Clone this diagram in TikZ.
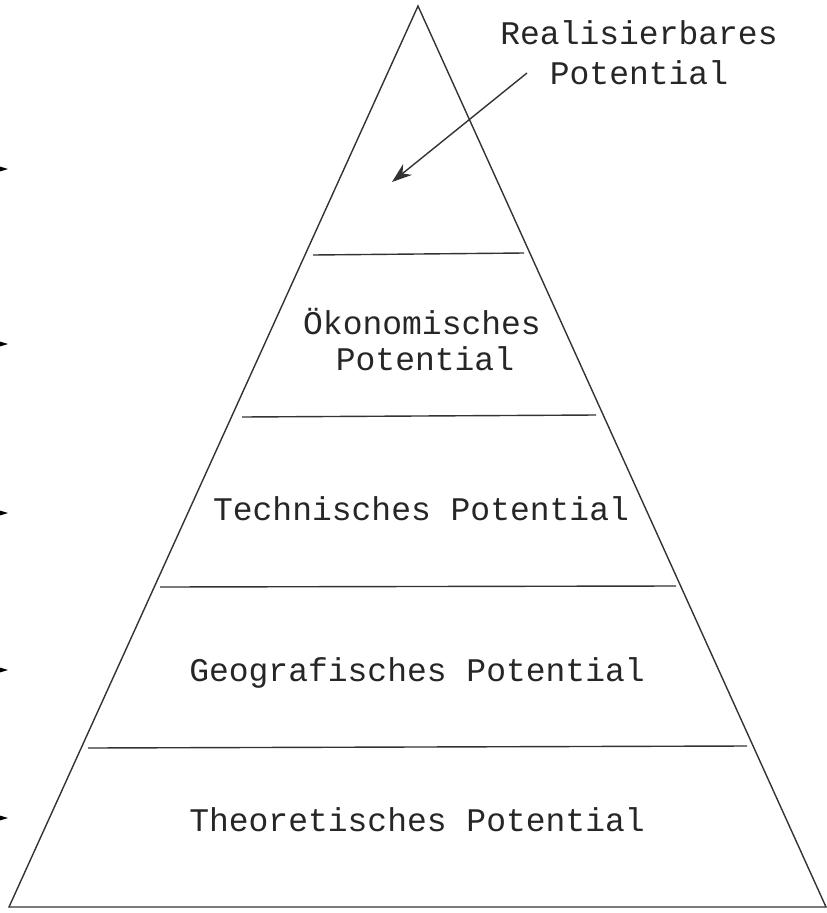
\documentclass[tikz,border=0pt]{standalone}
\usepackage{fontspec}
\setmonofont{Liberation Mono}
\usetikzlibrary{arrows.meta}
\begin{document}
\begin{tikzpicture}[x=1pt,y=-1pt,
  edge/.style={line width=1.4pt, draw=black!80},
  layer/.style={line width=1.4pt, draw=black!80},
  lbl/.style={font=\fontsize{33}{40}\selectfont\ttfamily, anchor=base, inner sep=0pt, text=black!85},
  pointer/.style={line width=1.4pt, draw=black!80, -{Stealth[length=20pt,width=14pt]}},
  sidearrow/.style={line width=1.4pt, -{Stealth[length=20pt,width=12pt]}}]
\path[use as bounding box] (0,0) rectangle (827,913);
\clip (0,0) rectangle (827,913);
% triangle
\coordinate (apex) at (418,6);
\coordinate (bl) at (9,907);
\coordinate (br) at (826,907);
\draw[edge] (bl) -- (apex) -- (br) -- cycle;
% layer lines
\coordinate (l1a) at (313,255); \coordinate (l1b) at (524,253);
\coordinate (l2a) at (242,417); \coordinate (l2b) at (596,415);
\coordinate (l3a) at (160,587); \coordinate (l3b) at (676,586);
\coordinate (l4a) at (88,748);  \coordinate (l4b) at (747,746);
\draw[layer] (l1a) -- (l1b);
\draw[layer] (l2a) -- (l2b);
\draw[layer] (l3a) -- (l3b);
\draw[layer] (l4a) -- (l4b);
% labels
\node[lbl] (real1) at (639,44) {Realisierbares};
\node[lbl] (real2) at (639,84) {Potential};
\node[lbl] (oek1) at (422,334) {Ökonomisches};
\node[lbl] (oek2) at (425,370) {Potential};
\node[lbl] (tech) at (421,520) {Technisches Potential};
\node[lbl] (geo) at (417,681) {Geografisches Potential};
\node[lbl] (theo) at (417,831) {Theoretisches Potential};
% pointer arrow
\coordinate (ps) at (527,73);
\coordinate (pt) at (392,182);
\draw[pointer] (ps) -- (pt);
% side arrows (cut at the left border)
\foreach \i/\yy in {1/169,2/344,3/513,4/670,5/818}{
  \coordinate (sa\i) at (-40,\yy);
  \coordinate (sb\i) at (8,\yy);
  \draw[sidearrow] (sa\i) -- (sb\i);
}
\end{tikzpicture}
\end{document}
